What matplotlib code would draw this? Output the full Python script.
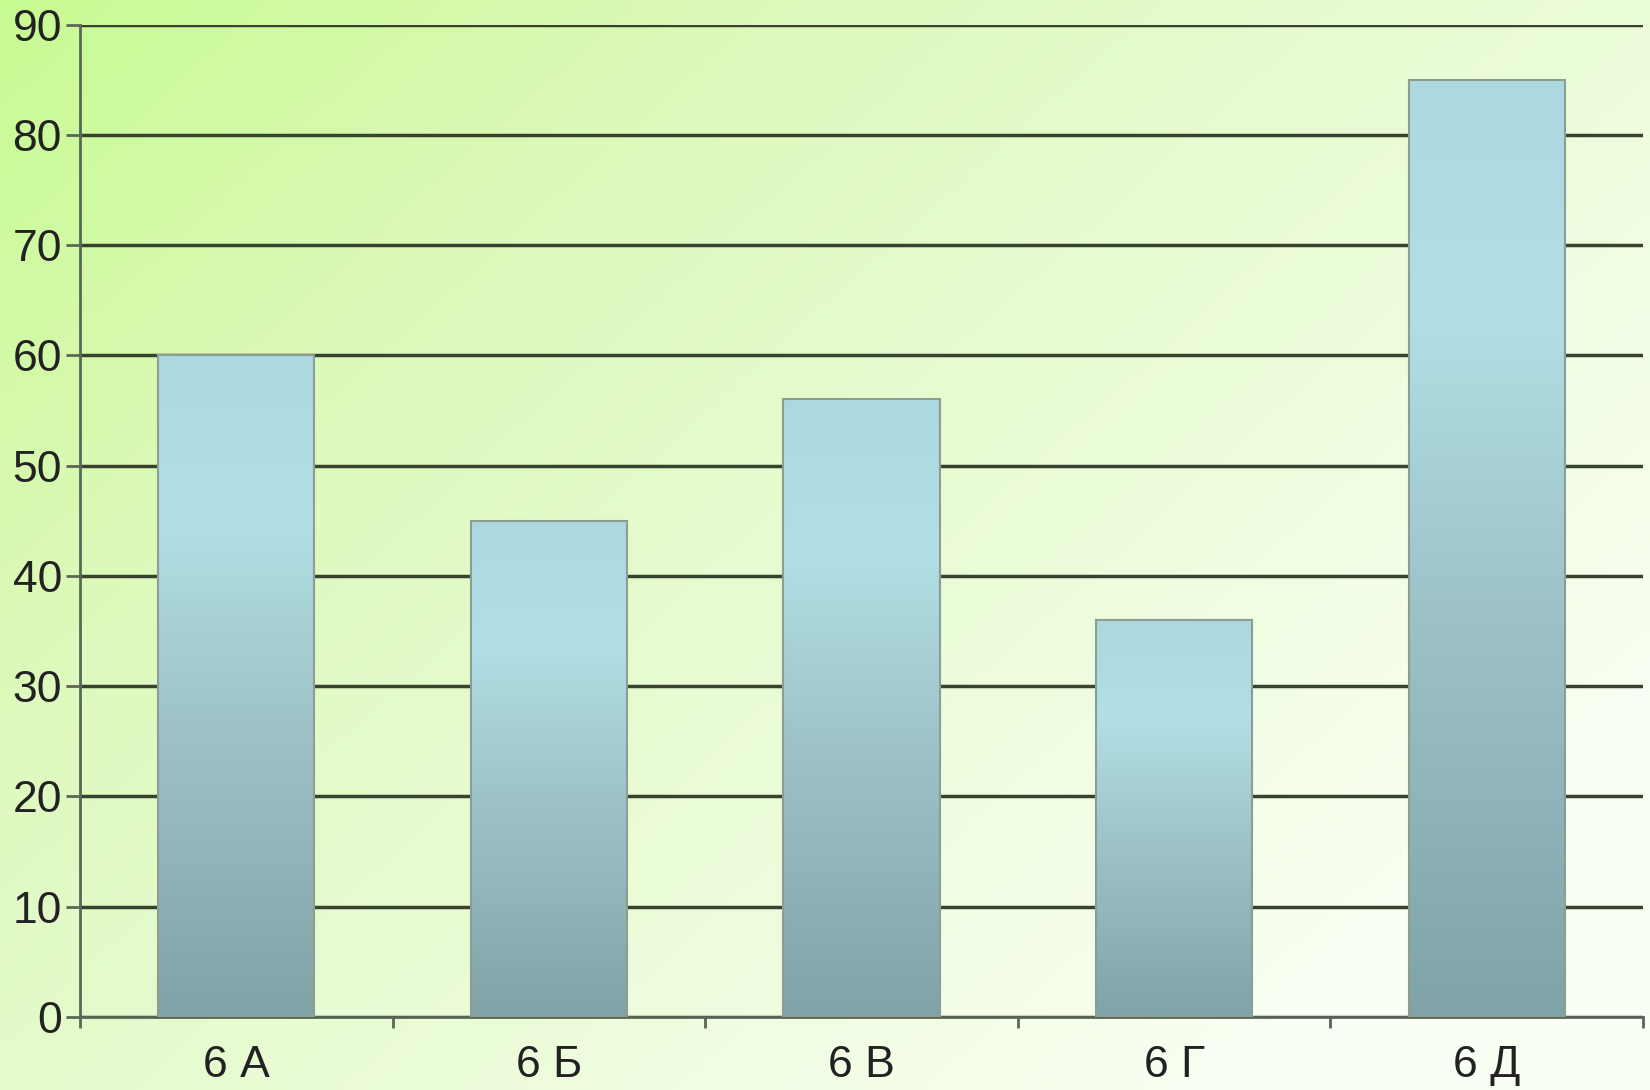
import numpy as np
import matplotlib
matplotlib.use("Agg")
import matplotlib.pyplot as plt
from matplotlib.colors import LinearSegmentedColormap

classes = ["6 А", "6 Б", "6 В", "6 Г", "6 Д"]
values = [60, 45, 56, 36, 85]
yticks = [0, 10, 20, 30, 40, 50, 60, 70, 80, 90]

plt.rcParams['font.family'] = ['Liberation Sans', 'DejaVu Sans']

fig = plt.figure(figsize=(16.5, 10.9), dpi=100)

# background gradient: light green top-left -> near white bottom-right
bg = fig.add_axes([0, 0, 1, 1], zorder=-10)
yy, xx = np.mgrid[0:1:200j, 0:1:300j]
t = np.clip((xx * 0.75 + yy * 0.55) / 1.1, 0, 1)
bg_cmap = LinearSegmentedColormap.from_list("bg", ["#c8fb92", "#def9bd", "#ebfcd8", "#f9fff2"])
bg.imshow(t, cmap=bg_cmap, aspect="auto", extent=[0, 1, 0, 1], origin="upper")
bg.axis("off")

ax = fig.add_axes([0.0485, 0.067, 0.9473, 0.9105])
ax.patch.set_alpha(0)

x = np.arange(len(classes))
bars = ax.bar(x, values, width=0.5, color="none", edgecolor="#8d9d93", linewidth=1.5, zorder=3)

bar_cmap = LinearSegmentedColormap.from_list(
    "bar", [(0, "#7fa3a7"), (0.45, "#9ec4ca"), (0.75, "#b1dfe5"), (1, "#acd9df")])
grad = np.linspace(0, 1, 256).reshape(-1, 1)
for b in bars:
    x0, w, h = b.get_x(), b.get_width(), b.get_height()
    im = ax.imshow(grad, cmap=bar_cmap, aspect="auto", origin="lower",
                   extent=[x0, x0 + w, 0, h], zorder=2)
    im.set_clip_path(b)

ax.set_xlim(-0.5, len(classes) - 0.5)
ax.set_ylim(0, 90)
ax.set_yticks(yticks)
ax.set_xticks(x)
ax.set_xticklabels(classes)
ax.set_xticks(np.arange(-0.5, len(classes)), minor=True)

ax.yaxis.grid(True, color="#38432f", linewidth=2.5, zorder=1)
ax.set_axisbelow(True)
for s in ["top", "right"]:
    ax.spines[s].set_visible(False)
for s in ["left", "bottom"]:
    ax.spines[s].set_color("#5a6656")
    ax.spines[s].set_linewidth(2)

ax.tick_params(axis="y", length=10, width=2, color="#5a6656", labelsize=32, labelcolor="#222222", pad=3)
ax.tick_params(axis="x", which="major", length=0, labelsize=32, labelcolor="#222222", pad=20)
ax.tick_params(axis="x", which="minor", length=8, width=2, color="#5a6656")

fig.savefig("out.png", dpi=100)
